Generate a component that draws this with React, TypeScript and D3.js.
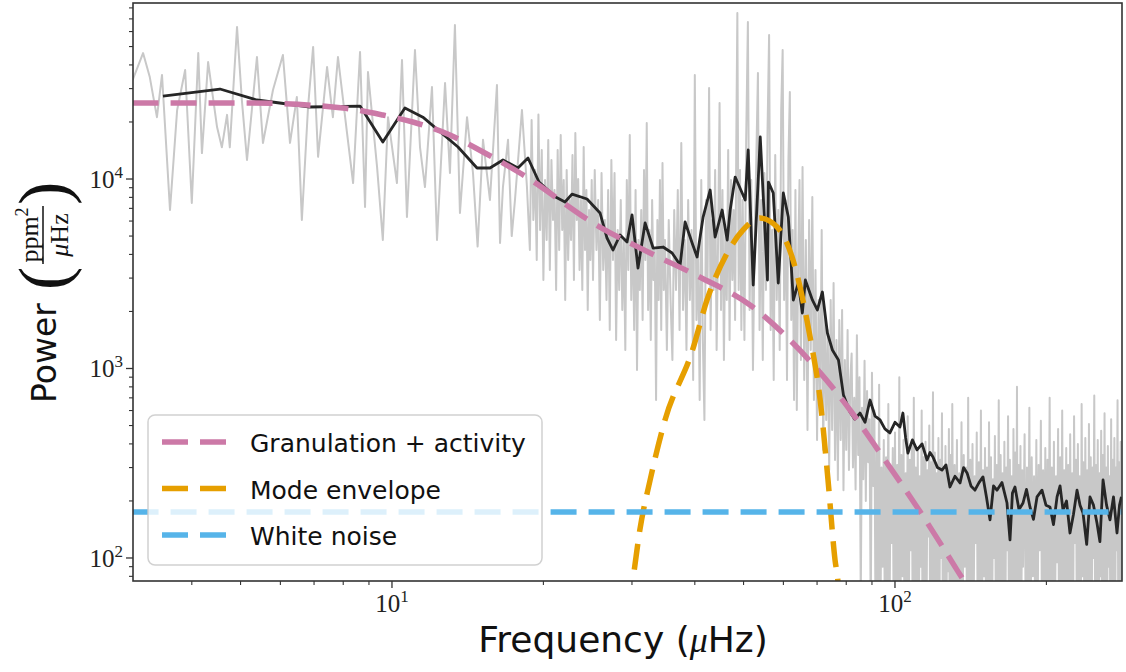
import React from "react";
import * as d3 from "d3";

type Pt = [number, number];

// ---------- data (frequency in µHz, power in ppm²/µHz) ----------
// raw power spectrum, low-frequency part
const rawLow: Pt[] = [
  [3.05,33300],[3.2,46200],[3.3,34500],[3.41,21200],[3.49,35400],[3.62,6860],[3.74,23100],[3.88,37600],[4.0,7470],[4.12,46200],
  [4.19,13700],[4.31,41400],[4.49,18800],[4.59,14700],[4.7,21800],[4.76,14700],[4.92,63400],[5.03,26100],[5.15,12600],[5.39,44000],
  [5.54,15500],[5.8,29500],[6.07,45100],[6.27,15500],[6.47,27100],[6.62,6080],[6.81,24000],[6.97,49800],[7.13,13100],[7.43,39000],
  [7.63,21200],[7.81,44000],[8.14,17500],[8.37,9520],[8.64,46800],[8.84,7110],[8.96,36700],[9.34,11600],[9.59,4770],[9.82,21200],
  [10.23,9520],[10.47,42500],[10.71,6300],[11.11,48000],[11.37,14700],[11.63,9070],[12.01,30600],[12.29,4770],[12.75,32100],[13.04,10760],
  [13.34,65000],[13.65,6620],[14.1,21200],[14.49,10760],[14.8,4400],[15.17,16100],[15.66,7750],[16.17,31300],[16.4,4600],[16.62,9070],
  [17.01,16100],[17.3,5000],[17.56,7750],[18.13,23100],[18.55,9070],
];
// raw power spectrum, mid-frequency part
const rawMid: Pt[] = [
  [18.8,4220],[18.95,20500],[19.1,6080],[19.25,11160],[19.4,3737],[19.55,21900],[19.7,5380],[19.85,14230],[20.0,2931],[20.15,9880],
  [20.3,4765],[20.45,16060],[20.6,3310],[20.75,12600],[20.9,6080],[21.05,8750],[21.2,2595],[21.35,14230],[21.5,4220],[21.65,17070],
  [21.8,5380],[21.95,9880],[22.1,2299],[22.25,11160],[22.4,3737],[22.55,7750],[22.7,4765],[22.85,13400],[23.0,2931],[23.15,17480],
  [23.3,6080],[23.45,10000],[23.6,3310],[23.75,7750],[23.9,2595],[24.05,14760],[24.2,4220],[24.35,8750],[24.5,2036],[24.65,6860],
  [24.8,3737],[24.95,9880],
  [25.1,2931],[25.3,11160],[25.5,4220],[25.7,7750],[25.9,1803],[26.1,10760],[26.3,3310],[26.5,6080],[26.7,2299],[26.9,8750],
  [27.1,1597],[27.3,12600],[27.5,3737],[27.7,10760],[27.9,1414],[28.1,5380],[28.3,2595],[28.5,7750],[28.7,2036],[28.9,4765],
  [29.1,1252],[29.3,9880],[29.5,3310],[29.7,17070],[29.9,2299],[30.1,6080],[30.3,1597],[30.5,8750],[30.7,982],[30.9,4765],
  [31.1,2595],[31.3,6860],[31.5,1803],[31.7,11160],[31.9,3737],[32.1,19750],[32.3,2036],[32.5,5380],[32.7,1414],[32.9,7750],
  [33.1,2931],[33.3,4220],[33.5,682],[33.7,6080],[33.9,2299],[34.1,9880],[34.3,1597],[34.5,12150],[34.7,2595],[34.9,4765],
  [35.2,1252],[35.5,6080],[35.8,2299],[36.1,1109],[36.4,6860],[36.7,2595],[37.0,8750],[37.3,1597],[37.6,15490],[37.9,2036],
  [38.2,4765],[38.5,1252],[38.8,7750],[39.1,2299],[39.4,5380],[39.7,870],[40.0,35400],[40.3,1803],[40.6,4220],[40.9,682],
  [41.2,9880],[41.5,1414],[41.8,535],[42.1,7750],[42.4,2931],[42.7,30200],[43.0,1597],[43.3,6080],[43.6,2595],[43.9,11160],
  [44.2,1252],[44.5,4765],[44.8,25180],[45.1,2036],[45.4,8750],[45.7,1109],[46.0,5380],[46.3,2299],[46.6,14230],[46.9,1414],
  [47.2,9880],[47.5,2931],[47.8,6860],[48.1,1803],[48.4,20500],[48.6,75150],[48.9,2595],[49.2,11160],[49.5,1597],[49.8,7750],
  [50.2,1414],[50.6,16060],[51.0,67400],[51.4,2036],[51.8,9880],[52.2,982],[52.6,4765],[53.0,12600],[53.4,36250],[53.8,1597],
  [54.2,7750],[54.6,1109],[55.0,10760],[55.4,2595],[55.8,18140],[56.2,57500],[56.6,1597],[57.0,5380],[57.4,870],[57.8,13400],
  [58.2,2299],[58.6,6860],[59.0,1252],[59.4,23100],[59.8,48000],[60.2,2299],[60.6,7750],[61.0,870],[61.4,12600],[61.8,28800],
  [62.2,1803],[62.6,5380],[63.0,682],[63.4,8750],[63.8,604],[64.2,3737],[64.6,9880],[65.0,1109],
  [65.5,11570],[66.0,870],[66.5,4765],[67.0,474],[67.5,6080],[68.0,1252],[68.5,8040],[69.0,682],[69.5,3310],[70.0,420],
  [70.5,2299],[71.0,604],[71.5,5380],[72.0,372],[72.5,2036],[73.0,535],[73.5,1597],[74.0,291],[74.5,2299],[75.0,474],
  [75.5,2827],[76.0,329],[76.5,1414],[77.0,258],[77.5,1803],[78.0,420],[78.5,2036],[79.0,228],[79.5,1109],[80.0,372],
  [80.5,1597],[81.0,291],[81.5,870],
];
// raw power spectrum, high-frequency part
const rawHigh: Pt[] = [
  [82.0,1200],[82.5,300],[83.0,700],[83.5,230],[84.0,1500],[84.5,350],[85.0,900],[85.5,60],[86.0,620],[86.5,260],
  [87.0,1100],[87.5,200],[88.0,760],[88.5,320],[89.0,540],[89.5,45],[90.0,950],[90.5,240],[91.0,600],
  [91.5,40],[92.0,380],[92.5,55],[93.0,820],[93.5,30],[94.0,300],[94.5,90],[95.0,420],[95.5,35],[96.0,340],
  [96.5,60],[97.0,650],[97.5,40],[98.0,290],[98.5,120],[99.0,380],[99.5,25],[100.0,460],[100.5,70],[101.0,310],
  [101.5,45],[102.0,900],[102.5,35],[103.0,350],[103.5,80],[104.0,420],[104.5,30],[105.0,280],[105.5,60],[106.0,560],
  [106.5,40],[107.0,330],[107.5,110],[108.0,400],[108.5,30],[109.0,700],[109.5,50],[110.0,300],[110.5,65],[111.0,380],
  [111.5,35],[112.0,270],[112.5,90],[113.0,600],[113.5,25],[114.0,340],[114.5,55],[115.0,410],[115.5,40],[116.0,290],
  [116.5,130],[117.0,500],[117.5,35],[118.0,320],[118.5,60],[119.0,750],[119.5,30],[120.0,360],[120.5,75],[121.0,280],
  [121.5,45],[122.0,430],[122.5,30],[123.0,330],[123.5,100],[124.0,580],[124.5,40],[125.0,300],[125.5,55],[126.0,390],
  [126.5,30],[127.0,270],[127.5,85],[128.0,480],[128.5,35],[129.0,350],[129.5,60],[130.0,650],
  [130.7,40],[131.4,310],[132.1,70],[132.8,420],[133.5,30],[134.2,280],[134.9,55],[135.6,520],[136.3,35],[137.0,350],
  [137.7,90],[138.4,300],[139.1,40],[139.8,700],[140.5,25],[141.2,330],[141.9,60],[142.6,400],[143.3,45],[144.0,270],
  [144.7,120],[145.4,460],[146.1,30],[146.8,320],[147.5,65],[148.2,600],[148.9,35],[149.6,290],[150.3,80],[151.0,380],
  [151.7,40],[152.4,300],[153.1,25],[153.8,520],[154.5,55],[155.2,340],[155.9,30],[156.6,260],[157.3,100],[158.0,440],
  [158.7,40],[159.4,310],[160.1,60],[160.8,680],[161.5,30],[162.2,350],[162.9,75],[163.6,280],[164.3,45],[165.0,410],
  [165.7,35],[166.4,300],[167.1,110],[167.8,560],[168.5,40],[169.2,330],[169.9,55],[170.6,270],[171.3,30],[172.0,480],
  [172.7,70],[173.4,360],[174.1,40],[174.8,800],[175.5,25],[176.2,310],[176.9,60],[177.6,390],[178.3,45],[179.0,290],
  [179.7,90],
  [181,450],[182,35],[183,300],[184,60],[185,620],[186,30],[187,340],[188,80],[189,270],[190,45],
  [191,420],[192,30],[193,310],[194,110],[195,530],[196,40],[197,290],[198,55],[199,380],[200,25],
  [201,330],[202,70],[203,700],[204,35],[205,300],[206,60],[207,410],[208,40],[209,270],[210,95],
  [211,480],[212,30],[213,340],[214,50],[215,600],[216,35],[217,290],[218,75],[219,380],[220,40],
  [221,310],[222,25],[223,450],[224,65],[225,280],[226,40],[227,560],[228,120],[229,330],[230,35],
  [231,400],[232,55],[233,270],[234,30],[235,650],[236,80],[237,320],[238,40],[239,430],[240,60],
  [241,290],[242,25],[243,510],[244,70],[245,340],[246,35],[247,300],[248,100],[249,720],[250,40],
  [251,310],[252,55],[253,420],[254,30],[255,280],[256,80],[257,470],[258,35],[259,350],[260,60],
  [261,580],[262,40],[263,300],[264,25],[265,390],[266,90],[267,270],[268,45],[269,540],[270,30],
  [271,330],[272,65],[273,430],[274,40],[275,300],[276,110],[277,680],[278,35],[279,320],[280,55],
  [281,410],[282,40],
];

// smoothed power spectrum
const smoothedSpectrum: Pt[] = [
  [3.505,27400],[4.55,29850],[5.39,26120],[6.87,23990],[8.64,24270],[9.59,15680],[10.61,23700],[11.52,21200],[13.53,14760],[14.76,11430],
  [15.66,11430],[16.62,12600],[17.8,11430],[18.64,12910],[19.6,9640],[21.15,8040],[22.08,7560],[22.8,8330],[24.42,7845],[25.92,6617],
  [26.76,4883],[27.51,4220],[28.41,5063],[29.33,4650],[30.01,6460],[30.84,3390],[31.86,5860],[33.05,4323],[34.59,4376],[36.05,4070],
  [37.4,3518],[38.26,5932],[39.51,4596],[40.42,3876],[41.55,6300],[42.91,8750],[43.9,4942],[45.33,6860],[46.39,4765],[47.03,6860],
  [48.12,10240],[50.38,7750],[51.07,14230],[52.26,2758],[53.97,16660],[55.78,2931],[56.03,9640],[57.28,8435],[58.61,2827],[59.98,8435],
  [61.37,6300],[62.79,2299],[64.25,2827],[65.44,1963],[66.34,2931],[68.51,2299],[70.1,2036],[71.73,2534],[73.39,1539],[75.09,1252],
  [77.2,1109],[78.99,724],[81.38,589],[83.2,540],[85.2,582],[87.2,520],[89.2,682],[91.3,560],[93.4,535],[95.5,480],
  [97.7,457],[100.0,520],[102.3,491],[103.7,582],[105.0,430],[106.1,358],[108.3,420],[110.6,372],[113.2,400],[115.8,329],
  [117.4,360],[119.0,341],[121.5,300],[124.0,291],[126.3,310],[128.6,237],[131.6,270],[134.7,249],[136.9,300],[139.1,281],
  [141.6,240],[144.2,228],[146.9,250],[149.6,268],[152.0,210],[154.5,159],[157.0,240],[159.5,228],[163.2,250],[167.0,195],
  [169.3,124.5],[171.2,220],[173.2,237],[176.4,180],[179.7,195],[182.6,230],[185.5,186],[188.5,160],[191.6,210],[196.0,228],
  [199.6,190],[203.3,186],[206.6,150],[210.0,210],[212.9,240],[215.8,179],[219.3,200],[222.8,135.5],[226.4,170],[230.1,228],
  [233.3,190],[236.5,172.8],[240.5,118],[244.2,210],[248.1,190],[252.1,153],[255.5,122],[259.2,258],[263.4,190],[267.6,159],
  [271.9,210],[276.3,135.5],[279.5,190],[282,210],
];

const granulationModel: Pt[] = [
  [3.05,25180],[5.22,25180],[7.99,23700],[9.59,21760],[11.0,19990],[13.04,17070],[15.17,13890],[17.97,10760],[25.9,5580],[32.6,4070],
  [40.9,3040],[51.5,2163],[61.8,1414],[81.4,604],[94.6,341],[110.6,186],[132.8,86.5],[137.8,73.8],[142,62],
];

const envelopeModel: Pt[] = [
  [29.5,55],[30.1,75.7],[31.1,140.5],[32.6,258],[34.9,535],[39.5,1230],[42.3,2299],[46.4,4070],[49.9,5383],[53.9,6223],
  [58.3,5580],[62.7,3737],[65.6,2299],[67.8,1466],[71.0,682],[73.6,258],[76.0,97.6],[77.0,75.7],[77.5,60],
];

const whiteNoiseModel: Pt[] = [[3.05,175],[283,175]];

const xMajorTicks = [10, 100];
const xMajorExponents = ["1", "2"];
const xMinorTicks = [4,5,6,7,8,9,20,30,40,50,60,70,80,90,200];
const yMajorTicks = [100, 1000, 10000];
const yMajorExponents = ["2", "3", "4"];
const yMinorTicks = [80,90,200,300,400,500,600,700,800,900,2000,3000,4000,5000,6000,7000,8000,9000,20000,30000,40000,50000,60000,70000,80000];

const legendLabels = ["Granulation + activity", "Mode envelope", "White noise"];
const modelColors = ["#CC79A7", "#E69F00", "#56B4E9"];

// ---------- layout ----------
const W = 1126, H = 672;
const L = 133, R = 1122, T = 3, B = 581;
const SERIF = "'Liberation Serif', 'DejaVu Serif', serif";
const SANS = "'DejaVu Sans', 'Open Sans', sans-serif";

export default function App() {
  const x = d3.scaleLog().domain([3.056, 282.7]).range([L, R]);
  const y = d3.scaleLog().domain([75.6, 84900]).range([B, T]);

  const straight = d3.line<Pt>().x(d => x(d[0])).y(d => y(d[1]));
  const smooth = d3.line<Pt>().x(d => x(d[0])).y(d => y(d[1])).curve(d3.curveMonotoneX);

  const rawSpectrum: Pt[] = [...rawLow, ...rawMid, ...rawHigh];
  const models = [granulationModel, envelopeModel, whiteNoiseModel];
  const dash = "26 12";
  const lw = 5.5;

  return (
    <svg width={W} height={H} style={{ position: "absolute", left: 0, top: 0, background: "#fff" }}>
      <rect width={W} height={H} fill="#fff" />
      <defs>
        <clipPath id="plotArea">
          <rect x={L} y={T} width={R - L} height={B - T} />
        </clipPath>
      </defs>

      <g clipPath="url(#plotArea)">
        <path d={straight(rawSpectrum) || ""} fill="none" stroke="#c8c8c8" strokeWidth={2} strokeLinejoin="round" />
        <path d={straight(smoothedSpectrum) || ""} fill="none" stroke="#262626" strokeWidth={2.8} strokeLinejoin="round" />
        {models.map((m, i) => (
          <path key={i} d={(i === 2 ? straight(m) : smooth(m)) || ""} fill="none" stroke={modelColors[i]}
            strokeWidth={lw} strokeDasharray={dash} />
        ))}
      </g>

      {/* frame */}
      <rect x={L} y={T} width={R - L} height={B - T} fill="none" stroke="#333" strokeWidth={1.6} />

      {/* x ticks */}
      {xMinorTicks.map(t => (
        <line key={"xm" + t} x1={x(t)} x2={x(t)} y1={B} y2={B + 4} stroke="#333" strokeWidth={1.1} />
      ))}
      {xMajorTicks.map((t, i) => (
        <g key={"xM" + t}>
          <line x1={x(t)} x2={x(t)} y1={B} y2={B + 7} stroke="#333" strokeWidth={1.3} />
          <text x={x(t)} y={612} textAnchor="middle" fontFamily={SERIF} fontSize={25} fill="#222">
            10<tspan dy={-10} fontSize={17}>{xMajorExponents[i]}</tspan>
          </text>
        </g>
      ))}

      {/* y ticks */}
      {yMinorTicks.map(t => (
        <line key={"ym" + t} x1={L - 4} x2={L} y1={y(t)} y2={y(t)} stroke="#333" strokeWidth={1.1} />
      ))}
      {yMajorTicks.map((t, i) => (
        <g key={"yM" + t}>
          <line x1={L - 7} x2={L} y1={y(t)} y2={y(t)} stroke="#333" strokeWidth={1.3} />
          <text x={123} y={y(t) + 9} textAnchor="end" fontFamily={SERIF} fontSize={25} fill="#222">
            10<tspan dy={-10} fontSize={17}>{yMajorExponents[i]}</tspan>
          </text>
        </g>
      ))}

      {/* x label */}
      <text x={623} y={652} textAnchor="middle" fontFamily={SANS} fontSize={36} fill="#111">
        Frequency (<tspan fontFamily={SERIF} fontStyle="italic">μ</tspan>Hz)
      </text>

      {/* y label */}
      <g transform="rotate(-90)" fill="#111">
        <text x={-403} y={56} fontFamily={SANS} fontSize={33}>Power</text>
        <text x={-290} y={67} fontFamily={SERIF} fontSize={70}>(</text>
        <text x={-235} y={38} textAnchor="middle" fontFamily={SERIF} fontSize={26}>
          ppm<tspan dy={-10} fontSize={18}>2</tspan>
        </text>
        <line x1={-264} x2={-206} y1={43} y2={43} stroke="#111" strokeWidth={1.5} />
        <text x={-235} y={68} textAnchor="middle" fontFamily={SERIF} fontSize={26}>
          <tspan fontStyle="italic">μ</tspan>Hz
        </text>
        <text x={-205} y={67} fontFamily={SERIF} fontSize={70}>)</text>
      </g>

      {/* legend */}
      <rect x={148} y={415} width={394} height={150} rx={7} fill="#fff" fillOpacity={0.8}
        stroke="#cccccc" strokeOpacity={0.9} strokeWidth={1.5} />
      {legendLabels.map((lab, i) => {
        const cy = 442 + i * 46.5;
        return (
          <g key={lab}>
            <line x1={162} x2={226} y1={cy} y2={cy} stroke={modelColors[i]} strokeWidth={lw} strokeDasharray={dash} />
            <text x={250} y={cy + 10} fontFamily={SANS} fontSize={25} fill="#111">{lab}</text>
          </g>
        );
      })}
    </svg>
  );
}
